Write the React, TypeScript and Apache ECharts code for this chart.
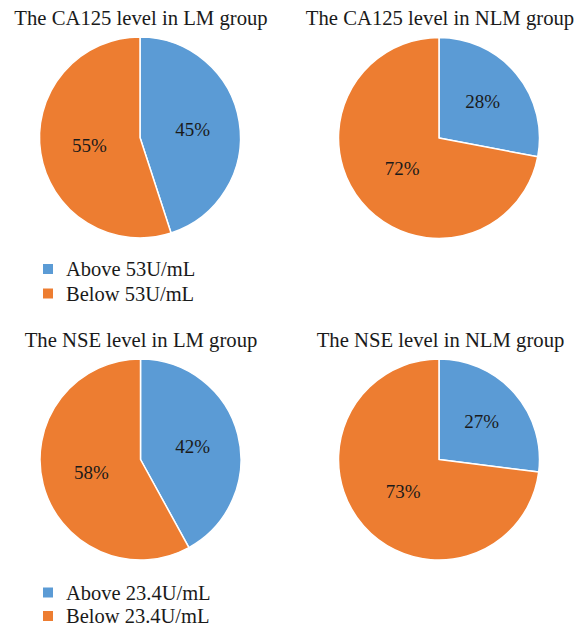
import React, { useEffect, useRef } from "react";
import * as echarts from "echarts";

const titles = [
  "The CA125 level in LM group",
  "The CA125 level in NLM group",
  "The NSE level in LM group",
  "The NSE level in NLM group",
];
const ca125Names = ["Above 53U/mL", "Below 53U/mL"];
const nseNames = ["Above 23.4U/mL", "Below 23.4U/mL"];
const ca125LM = [45, 55];
const ca125NLM = [28, 72];
const nseLM = [42, 58];
const nseNLM = [27, 73];

const BLUE = "#5B9BD5";
const ORANGE = "#ED7D31";
const FONT = "Liberation Serif";

export default function App() {
  const ref = useRef<HTMLDivElement>(null);
  useEffect(() => {
    if (!ref.current) return;
    const chart = echarts.init(ref.current, undefined, { renderer: "svg" });
    const R = 100.5;
    const centers: [number, number][] = [
      [140, 137.5],
      [439, 138],
      [140.5, 459.5],
      [439, 459.5],
    ];
    const titlePos: [number, number][] = [
      [141, 18],
      [440, 18],
      [141, 340],
      [440.5, 340],
    ];
    const datasets = [ca125LM, ca125NLM, nseLM, nseNLM];
    const namesFor = [ca125Names, ca125Names, nseNames, nseNames];
    const series = datasets.map((vals, i) => {
      const total = vals.reduce((a, b) => a + b, 0);
      return {
        type: "pie",
        center: centers[i],
        radius: R,
        startAngle: 90,
        clockwise: true,
        silent: true,
        data: vals.map((v, j) => ({ name: namesFor[i][j], value: v })),
        itemStyle: { borderColor: "#ffffff", borderWidth: 1.5 },
        label: {
          show: true,
          position: "inside",
          formatter: (p: any) => p.value + "%",
          color: "#1a1a1a",
          fontFamily: FONT,
          fontSize: 19,
        },
        labelLayout: (p: any) => {
          const j = p.dataIndex;
          let cum = 0;
          for (let k = 0; k < j; k++) cum += vals[k];
          const frac = vals[j] / total;
          const theta = (2 * Math.PI * (cum + vals[j] / 2)) / total;
          const r = R * (0.62 - 0.2 * frac);
          return {
            x: centers[i][0] + r * Math.sin(theta),
            y: centers[i][1] - r * Math.cos(theta),
            align: "center",
            verticalAlign: "middle",
          };
        },
        labelLine: { show: false },
        emphasis: { disabled: true },
      };
    });
    const legendBase = {
      orient: "vertical",
      left: 41,
      height: 60,
      padding: 0,
      icon: "rect",
      itemWidth: 12,
      itemHeight: 12,
      selectedMode: false,
      textStyle: {
        fontFamily: FONT,
        fontSize: 20.5,
        color: "#1a1a1a",
        padding: [0, 0, 0, 7],
      },
    };
    chart.setOption({
      animation: false,
      backgroundColor: "#ffffff",
      color: [BLUE, ORANGE],
      legend: [
        { ...legendBase, data: ca125Names, top: 258.5, itemGap: 3.5 },
        { ...legendBase, data: nseNames, top: 582, itemGap: 2.5 },
      ],
      graphic: titles.map((t, i) => ({
        type: "text",
        x: titlePos[i][0],
        y: titlePos[i][1],
        style: {
          text: t,
          textAlign: "center",
          textVerticalAlign: "middle",
          fontFamily: FONT,
          fontSize: 20.7,
          fill: "#1a1a1a",
        },
      })),
      series,
    });
    return () => chart.dispose();
  }, []);
  return (
    <div
      ref={ref}
      style={{ position: "fixed", left: 0, top: 0, width: 583, height: 630 }}
    />
  );
}
